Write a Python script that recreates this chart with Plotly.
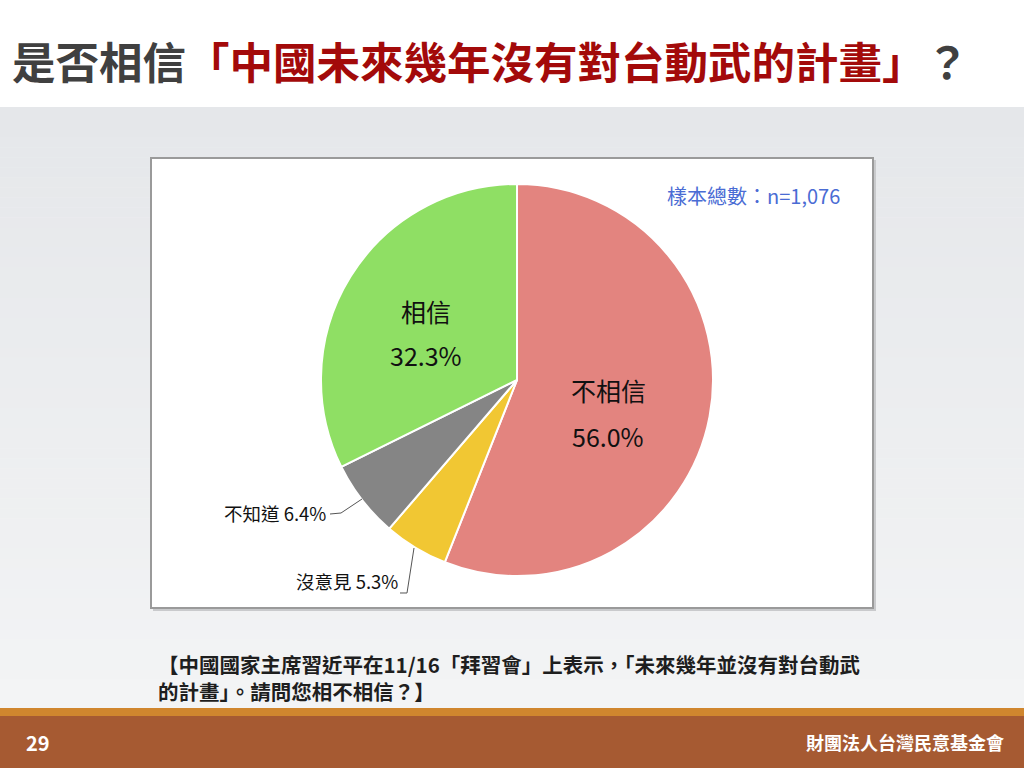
import plotly.graph_objects as go

# Survey result data
labels = ["不相信", "沒意見", "不知道", "相信"]
values = [56.0, 5.3, 6.4, 32.3]
colors = ["#E3847F", "#F1C733", "#858585", "#8FDF64"]
sample_note = "樣本總數：n=1,076"

title_lead = "是否相信"
title_quote = "「中國未來幾年沒有對台動武的計畫」"
title_tail = "？"
question_lines = [
    "【中國國家主席習近平在11/16「拜習會」上表示，「未來幾年並沒有對台動武",
    "的計畫」。請問您相不相信？】",
]
page_no = "29"
org_name = "財團法人台灣民意基金會"

W, H = 1024, 768
FONT = "Noto Sans CJK TC"


def px(x):
    return x / W


def py(y):
    return 1 - y / H


shapes = []

# Slide background: white header band, soft gray body
shapes.append(dict(type="rect", xref="paper", yref="paper", x0=0, x1=1,
                   y0=py(107), y1=1, fillcolor="white", line_width=0, layer="below"))
top_c = (229, 231, 234)
bot_c = (243, 244, 245)
steps = 60
y_top, y_bot = 107, 709
for i in range(steps):
    t = i / (steps - 1)
    c = tuple(int(round(top_c[k] + (bot_c[k] - top_c[k]) * t)) for k in range(3))
    ya = y_top + (y_bot - y_top) * i / steps
    yb = y_top + (y_bot - y_top) * (i + 1) / steps + 0.5
    shapes.append(dict(type="rect", xref="paper", yref="paper", x0=0, x1=1,
                       y0=py(min(yb, y_bot)), y1=py(ya), fillcolor="rgb(%d,%d,%d)" % c,
                       line_width=0, layer="below"))

# Footer stripe and bar
shapes.append(dict(type="rect", xref="paper", yref="paper", x0=0, x1=1,
                   y0=py(716), y1=py(708), fillcolor="#D0862E", line_width=0, layer="below"))
shapes.append(dict(type="rect", xref="paper", yref="paper", x0=0, x1=1,
                   y0=0, y1=py(716), fillcolor="#A65A32", line_width=0, layer="below"))

# Chart frame with a light shadow
shapes.append(dict(type="rect", xref="paper", yref="paper", x0=px(153), x1=px(876),
                   y0=py(611), y1=py(160), fillcolor="#C9CACC", line_width=0, layer="below"))
shapes.append(dict(type="rect", xref="paper", yref="paper", x0=px(151), x1=px(873),
                   y0=py(608), y1=py(158), fillcolor="white",
                   line=dict(color="#9A9A9A", width=2), layer="below"))

# Leader lines for the small slices
shapes.append(dict(type="path", xref="paper", yref="paper",
                   path="M %f,%f L %f,%f L %f,%f" % (px(330), py(514), px(341), py(513), px(362), py(499)),
                   line=dict(color="#555555", width=1)))
shapes.append(dict(type="path", xref="paper", yref="paper",
                   path="M %f,%f L %f,%f L %f,%f" % (px(400), py(593), px(407), py(593), px(414), py(548)),
                   line=dict(color="#555555", width=1)))

fig = go.Figure(go.Pie(
    labels=labels,
    values=values,
    sort=False,
    direction="clockwise",
    rotation=0,
    marker=dict(colors=colors, line=dict(color="white", width=2)),
    textinfo="none",
    hoverinfo="label+percent",
    showlegend=False,
    domain=dict(x=[px(321), px(713)], y=[py(576), py(184)]),
))

annotations = []


def add_text(text, x, y, size, color="#111111", xanchor="center", bold=False,
             family=FONT, align="center"):
    annotations.append(dict(
        text="<b>%s</b>" % text if bold else text,
        x=px(x), y=py(y), xref="paper", yref="paper",
        xanchor=xanchor, yanchor="middle", showarrow=False, align=align,
        font=dict(family=family, size=size, color=color),
    ))


# Title
annotations.append(dict(
    text=("<b><span style='color:#404040'>%s</span>"
          "<span style='color:#A30A0A'>%s</span>"
          "<span style='color:#404040'>%s</span></b>") % (title_lead, title_quote, title_tail),
    x=px(10), y=py(60), xref="paper", yref="paper", xanchor="left", yanchor="middle",
    showarrow=False, font=dict(family=FONT, size=43.5),
))

# Inside slice labels
add_text(labels[0], 608, 390, 25)
add_text("%.1f%%" % values[0], 608, 436, 25)
add_text(labels[3], 426, 311, 25)
add_text("%.1f%%" % values[3], 426, 355, 25)

# Outside slice labels
add_text("%s %.1f%%" % (labels[2], values[2]), 328, 513, 18.5, xanchor="right")
add_text("%s %.1f%%" % (labels[1], values[1]), 400, 581, 18.5, xanchor="right")

# Sample size note
add_text(sample_note, 842, 196, 20, color="#4A6CD4", xanchor="right")

# Question text (two lines in one block)
add_text("<br>".join(question_lines), 156, 677.5, 20.5, color="#1E1E1E",
         xanchor="left", bold=True, align="left")

# Footer
add_text(page_no, 24, 742, 20, color="white", xanchor="left", bold=True)
add_text(org_name, 1006, 742, 18, color="white", xanchor="right", bold=True)

fig.update_layout(
    width=W, height=H,
    margin=dict(l=0, r=0, t=0, b=0),
    paper_bgcolor="white",
    plot_bgcolor="white",
    shapes=shapes,
    annotations=annotations,
    font=dict(family=FONT),
)

fig.write_html("out.html", config={"displayModeBar": False})
